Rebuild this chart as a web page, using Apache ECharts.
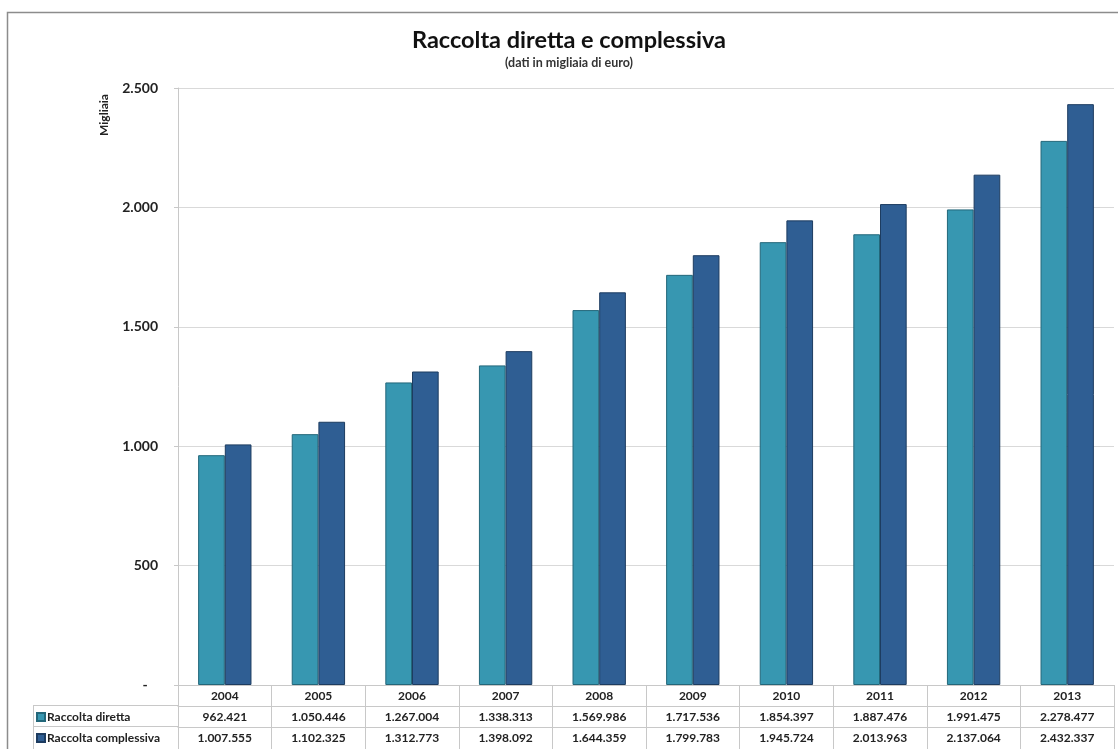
<!DOCTYPE html>
<html>
<head>
<meta charset="utf-8">
<script src="https://cdn.jsdelivr.net/npm/echarts@6/dist/echarts.min.js"></script>
<style>
  html, body { margin: 0; padding: 0; background: #fff; }
  #chart { width: 1118px; height: 749px; }
</style>
</head>
<body>
<div id="chart"></div>
<script>
// Raccolta diretta e complessiva, valori in migliaia di euro
const years = ['2004', '2005', '2006', '2007', '2008', '2009', '2010', '2011', '2012', '2013'];
const raccoltaDiretta = [962421, 1050446, 1267004, 1338313, 1569986, 1717536, 1854397, 1887476, 1991475, 2278477];
const raccoltaComplessiva = [1007555, 1102325, 1312773, 1398092, 1644359, 1799783, 1945724, 2013963, 2137064, 2432337];
const yTicks = [0, 500, 1000, 1500, 2000, 2500];

const FONT = 'Lato, "Open Sans", sans-serif';
const COL_DIR = '#3797B1';
const COL_COMP = '#2F5E93';
const LINE = '#c8c8c8';

// Italian thousands separator
function fmt(n) {
  return String(Math.round(n)).replace(/\B(?=(\d{3})+(?!\d))/g, '.');
}

const chart = echarts.init(document.getElementById('chart'), null, { renderer: 'canvas' });

const tableLabel = (arr) => ({
  show: true,
  margin: 5,
  fontFamily: FONT,
  fontSize: 12,
  fontWeight: 'bold',
  color: '#222',
  interval: 0,
  formatter: (v, i) => fmt(arr[i])
});

// one legend per table row, so each sits beside its own row
const rowLegend = (name, top) => ({
  orient: 'horizontal',
  left: 36,
  top: top,
  itemWidth: 8,
  itemHeight: 8,
  itemGap: 0,
  icon: 'rect',
  selectedMode: false,
  padding: 0,
  textStyle: { fontFamily: FONT, fontSize: 12, fontWeight: 'bold', color: '#222', padding: [0, 0, 0, -3] },
  data: [name]
});

chart.setOption({
  animation: false,
  backgroundColor: '#fff',
  legend: [
    rowLegend('Raccolta diretta', 711),
    rowLegend('Raccolta complessiva', 732)
  ],
  grid: { left: 178, right: 4, top: 88, bottom: 64, containLabel: false },
  xAxis: [
    {
      type: 'category',
      data: years,
      position: 'bottom',
      axisLine: { show: true, lineStyle: { color: LINE } },
      axisTick: { show: true, length: 64, lineStyle: { color: LINE } },
      axisLabel: { margin: 5, fontFamily: FONT, fontSize: 12, fontWeight: 'bold', color: '#222' }
    },
    {
      type: 'category',
      data: years,
      position: 'bottom',
      offset: 21,
      axisLine: { show: true, lineStyle: { color: LINE } },
      axisTick: { show: false },
      axisLabel: tableLabel(raccoltaDiretta)
    },
    {
      type: 'category',
      data: years,
      position: 'bottom',
      offset: 42,
      axisLine: { show: true, lineStyle: { color: LINE } },
      axisTick: { show: false },
      axisLabel: tableLabel(raccoltaComplessiva)
    }
  ],
  yAxis: {
    type: 'value',
    min: yTicks[0],
    max: yTicks[yTicks.length - 1],
    interval: yTicks[1] - yTicks[0],
    axisLine: { show: true, lineStyle: { color: LINE } },
    axisTick: { show: true, length: 4, lineStyle: { color: LINE } },
    splitLine: { lineStyle: { color: '#d9d9d9' } },
    axisLabel: {
      margin: 20,
      fontFamily: FONT,
      fontSize: 14,
      fontWeight: 'bold',
      color: '#222',
      formatter: (v) => (v === 0 ? '-   ' : fmt(v))
    }
  },
  series: [
    {
      name: 'Raccolta diretta',
      type: 'bar',
      xAxisIndex: 0,
      data: raccoltaDiretta.map(v => v / 1000),
      barGap: '0%',
      barCategoryGap: '43%',
      itemStyle: { color: COL_DIR, borderColor: '#23677a', borderWidth: 1 }
    },
    {
      name: 'Raccolta complessiva',
      type: 'bar',
      xAxisIndex: 0,
      data: raccoltaComplessiva.map(v => v / 1000),
      barGap: '0%',
      barCategoryGap: '43%',
      itemStyle: { color: COL_COMP, borderColor: '#1d3c60', borderWidth: 1 }
    }
  ],
  graphic: [
    // outer chart frame
    { type: 'rect', shape: { x: 7.5, y: 12.5, width: 1120, height: 750 }, style: { fill: null, stroke: '#8c8c8c', lineWidth: 1.5 }, silent: true },
    // title and subtitle, centred over the chart body
    {
      type: 'text', x: 569, y: 40,
      style: { text: 'Raccolta diretta e complessiva', fontFamily: FONT, fontSize: 23.5, fontWeight: 'bold', fill: '#111', align: 'center', verticalAlign: 'middle' },
      silent: true
    },
    {
      type: 'text', x: 569, y: 63,
      style: { text: '(dati in migliaia di euro)', fontFamily: FONT, fontSize: 12.5, fontWeight: 'bold', fill: '#333', align: 'center', verticalAlign: 'middle' },
      silent: true
    },
    // left column of the data table
    { type: 'line', shape: { x1: 33, y1: 705.5, x2: 178, y2: 705.5 }, style: { stroke: LINE, lineWidth: 1 }, silent: true },
    { type: 'line', shape: { x1: 33, y1: 726.5, x2: 178, y2: 726.5 }, style: { stroke: LINE, lineWidth: 1 }, silent: true },
    { type: 'line', shape: { x1: 33.5, y1: 705, x2: 33.5, y2: 749 }, style: { stroke: LINE, lineWidth: 1 }, silent: true },
    { type: 'line', shape: { x1: 178.5, y1: 685, x2: 178.5, y2: 749 }, style: { stroke: LINE, lineWidth: 1 }, silent: true },
    // axis name
    {
      type: 'text',
      x: 104, y: 115,
      rotation: Math.PI / 2,
      style: { text: 'Migliaia', fontFamily: FONT, fontSize: 12, fontWeight: 'bold', fill: '#222', align: 'center', verticalAlign: 'middle' },
      silent: true
    }
  ]
});
</script>
</body>
</html>
